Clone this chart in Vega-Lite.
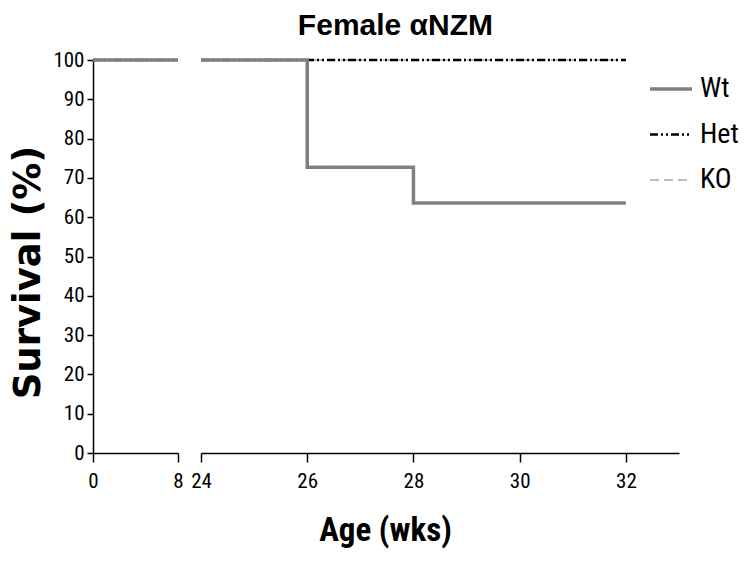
{
  "$schema": "https://vega.github.io/schema/vega-lite/v6.json",
  "padding": {"left": 9, "top": 11, "right": 5, "bottom": 5},
  "background": "white",
  "config": {
    "view": {"stroke": null},
    "font": "Liberation Sans Narrow, Roboto Condensed, Liberation Sans",
    "axis": {
      "domainColor": "#000", "domainWidth": 1.5, "tickColor": "#000", "tickWidth": 1.5,
      "grid": false, "labelFontSize": 21, "labelColor": "#000", "titleColor": "#000",
      "labelFont": "Liberation Sans Narrow, Roboto Condensed, Liberation Sans",
      "titleFont": "Liberation Sans Narrow, Roboto Condensed, Liberation Sans"
    }
  },
  "title": {"text": "Female αNZM", "fontSize": 30, "fontWeight": "bold", "color": "#000", "anchor": "middle", "font": "Liberation Sans", "offset": 8, "dx": 21},
  "datasets": {
    "early": [
      {"series": "KO", "age": 0, "survival": 100},
      {"series": "KO", "age": 8, "survival": 100},
      {"series": "Het", "age": 0, "survival": 100},
      {"series": "Het", "age": 8, "survival": 100},
      {"series": "Wt", "age": 0, "survival": 100},
      {"series": "Wt", "age": 8, "survival": 100}
    ],
    "late": [
      {"series": "KO", "age": 24, "survival": 100},
      {"series": "KO", "age": 32, "survival": 100},
      {"series": "Het", "age": 24, "survival": 100},
      {"series": "Het", "age": 32, "survival": 100},
      {"series": "Wt", "age": 24, "survival": 100},
      {"series": "Wt", "age": 26, "survival": 72.7},
      {"series": "Wt", "age": 28, "survival": 63.6},
      {"series": "Wt", "age": 32, "survival": 63.6}
    ]
  },
  "spacing": 5,
  "resolve": {"scale": {"color": "shared", "strokeDash": "shared", "strokeWidth": "shared"}},
  "hconcat": [
    {
      "width": 85, "height": 393,
      "data": {"name": "early"},
      "mark": {"type": "line", "interpolate": "step-after"},
      "encoding": {
        "x": {"field": "age", "type": "quantitative", "scale": {"domain": [0, 8], "nice": false}, "axis": {"values": [0, 8], "title": null, "tickSize": 9, "labelPadding": 8, "labelFlush": false}},
        "y": {"field": "survival", "type": "quantitative", "scale": {"domain": [0, 100], "nice": false}, "axis": {"values": [0,10,20,30,40,50,60,70,80,90,100], "title": "Survival (%)", "titleFont": "DejaVu Sans", "titleFontSize": 37, "titleFontWeight": "bold", "titlePadding": 5, "titleY": 212, "tickSize": 6, "labelPadding": 3}},
        "color": {"field": "series", "type": "nominal", "scale": {"domain": ["Wt", "Het", "KO"], "range": ["#808080", "#000000", "#a8a8a8"]}},
        "strokeDash": {"field": "series", "type": "nominal", "scale": {"domain": ["Wt", "Het", "KO"], "range": [[1, 0], [8, 3, 2, 3, 2, 3], [9, 5]]}},
        "strokeWidth": {"field": "series", "type": "ordinal", "scale": {"domain": ["Wt", "Het", "KO"], "range": [3.5, 1.5, 3.5]}}
      }
    },
    {
      "width": 478, "height": 393,
      "data": {"name": "late"},
      "mark": {"type": "line", "interpolate": "step-after"},
      "encoding": {
        "x": {"field": "age", "type": "quantitative", "scale": {"domain": [24, 33], "nice": false}, "axis": {"values": [24, 26, 28, 30, 32], "title": "Age (wks)", "titleFontSize": 33, "titleFontWeight": "bold", "titlePadding": 23, "titleX": 184, "tickSize": 9, "labelPadding": 8, "labelFlush": false}},
        "y": {"field": "survival", "type": "quantitative", "scale": {"domain": [0, 100], "nice": false}, "axis": null},
        "color": {"field": "series", "type": "nominal", "scale": {"domain": ["Wt", "Het", "KO"], "range": ["#808080", "#000000", "#a8a8a8"]}, "legend": {"title": null, "orient": "none", "legendX": 555, "legendY": 6, "symbolType": "stroke", "symbolSize": 1764, "labelFontSize": 28, "labelOffset": 6, "rowPadding": 9, "labelColor": "#000"}},
        "strokeDash": {"field": "series", "type": "nominal", "scale": {"domain": ["Wt", "Het", "KO"], "range": [[1, 0], [8, 3, 2, 3, 2, 3], [9, 5]]}, "legend": {"title": null, "orient": "none", "legendX": 555, "legendY": 6, "symbolType": "stroke", "symbolSize": 1764, "labelFontSize": 28, "labelOffset": 6, "rowPadding": 9, "labelColor": "#000"}},
        "strokeWidth": {"field": "series", "type": "ordinal", "scale": {"domain": ["Wt", "Het", "KO"], "range": [3.5, 1.5, 3.5]}, "legend": {"title": null, "orient": "none", "legendX": 555, "legendY": 6, "symbolType": "stroke", "symbolSize": 1764, "labelFontSize": 28, "labelOffset": 6, "rowPadding": 9, "labelColor": "#000"}}
      }
    }
  ]
}
